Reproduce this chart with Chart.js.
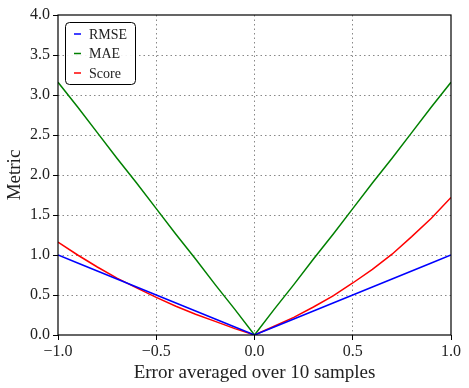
<!DOCTYPE html>
<html>
<head>
<meta charset="utf-8">
<script src="https://cdn.jsdelivr.net/npm/chart.js@4"></script>
<style>
  html, body { margin: 0; padding: 0; background: #fff; }
  #wrap { width: 469px; height: 388px; }
</style>
</head>
<body>
<div id="wrap"><canvas id="metricChart" width="469" height="388"></canvas></div>
<script>
// error values on the x axis
const errors = [-1.0, -0.9, -0.8, -0.7, -0.6, -0.5, -0.4, -0.3, -0.2, -0.1, 0.0,
                0.1, 0.2, 0.3, 0.4, 0.5, 0.6, 0.7, 0.8, 0.9, 1.0];
const rmse  = [1.0, 0.9, 0.8, 0.7, 0.6, 0.5, 0.4, 0.3, 0.2, 0.1, 0.0,
               0.1, 0.2, 0.3, 0.4, 0.5, 0.6, 0.7, 0.8, 0.9, 1.0];
const mae   = [3.16, 2.85, 2.53, 2.21, 1.90, 1.58, 1.26, 0.95, 0.63, 0.32, 0.0,
               0.32, 0.63, 0.95, 1.26, 1.58, 1.90, 2.21, 2.53, 2.85, 3.16];
const score = [1.16, 1.00, 0.85, 0.71, 0.59, 0.47, 0.36, 0.26, 0.17, 0.08, 0.0,
               0.11, 0.22, 0.35, 0.49, 0.65, 0.82, 1.01, 1.23, 1.46, 1.72];
const seriesNames = ['RMSE', 'MAE', 'Score'];
const seriesColors = ['#0000ff', '#008000', '#ff0000'];
const xTicks = [-1.0, -0.5, 0.0, 0.5, 1.0];
const yTicks = [0.0, 0.5, 1.0, 1.5, 2.0, 2.5, 3.0, 3.5, 4.0];

const FONT = '"Liberation Serif", "DejaVu Serif", serif';
const pts = vals => vals.map((v, i) => ({ x: errors[i], y: v }));
const fmt = v => (v < 0 ? '\u2212' : '') + Math.abs(v).toFixed(1);

// frame around the plot + legend box inside upper left
const framePlugin = {
  id: 'frame',
  afterDatasetsDraw(chart) {
    const { ctx, chartArea: a } = chart;
    ctx.save();
    ctx.strokeStyle = '#000';
    ctx.lineWidth = 1.2;
    ctx.setLineDash([]);
    ctx.strokeRect(a.left, a.top, a.right - a.left, a.bottom - a.top);

    // legend
    const bx = a.left + 7, by = a.top + 7, bw = 70, bh = 62;
    ctx.fillStyle = 'rgba(255,255,255,0.9)';
    ctx.strokeStyle = '#000';
    ctx.lineWidth = 1;
    ctx.beginPath();
    ctx.roundRect(bx + 0.5, by + 0.5, bw, bh, 4);
    ctx.fill();
    ctx.stroke();
    ctx.font = '14px ' + FONT;
    ctx.textBaseline = 'middle';
    chart.data.datasets.forEach((ds, i) => {
      const y = by + 12 + i * 19.5;
      ctx.strokeStyle = ds.borderColor;
      ctx.lineWidth = 1.5;
      ctx.beginPath();
      ctx.moveTo(bx + 9, y);
      ctx.lineTo(bx + 16, y);
      ctx.stroke();
      ctx.fillStyle = '#222';
      ctx.fillText(ds.label, bx + 24, y + 1);
    });
    ctx.restore();
  }
};

const gridColor = edges => ctx =>
  (ctx.tick && edges.includes(ctx.tick.value)) ? 'rgba(0,0,0,0)' : '#888';

new Chart(document.getElementById('metricChart').getContext('2d'), {
  type: 'line',
  data: {
    datasets: [rmse, mae, score].map((vals, i) => ({
      label: seriesNames[i],
      data: pts(vals),
      borderColor: seriesColors[i],
      backgroundColor: seriesColors[i],
      borderWidth: 1.5,
      pointRadius: 0,
      tension: 0
    }))
  },
  options: {
    responsive: false,
    animation: false,
    layout: { padding: { left: 4, right: 18, top: 15, bottom: 0 } },
    plugins: {
      legend: { display: false },
      tooltip: { enabled: false }
    },
    scales: {
      x: {
        type: 'linear',
        min: -1, max: 1,
        afterBuildTicks: s => { s.ticks = xTicks.map(v => ({ value: v })); },
        afterFit: s => { s.height = 53; },
        ticks: {
          callback: v => fmt(v),
          color: '#222',
          font: { family: FONT, size: 16 },
          padding: 2,
          maxRotation: 0
        },
        grid: {
          color: gridColor([-1, 1]),
          lineWidth: 1,
          tickColor: '#000',
          tickLength: 5,
          tickBorderDash: []
        },
        border: { display: false, dash: [1.5, 3] },
        title: {
          display: true,
          text: 'Error averaged over 10 samples',
          color: '#222',
          font: { family: FONT, size: 19 },
          padding: { top: 0, bottom: 4 }
        }
      },
      y: {
        min: 0, max: 4,
        afterBuildTicks: s => { s.ticks = yTicks.map(v => ({ value: v })); },
        afterFit: s => { s.width = 54; },
        ticks: {
          callback: v => fmt(v),
          color: '#222',
          font: { family: FONT, size: 16 },
          padding: 3
        },
        grid: {
          color: gridColor([0, 4]),
          lineWidth: 1,
          tickColor: '#000',
          tickLength: 5,
          tickBorderDash: []
        },
        border: { display: false, dash: [1.5, 3] },
        title: {
          display: true,
          text: 'Metric',
          color: '#222',
          font: { family: FONT, size: 19 },
          padding: { top: 0, bottom: 2 }
        }
      }
    }
  },
  plugins: [framePlugin]
});
</script>
</body>
</html>
